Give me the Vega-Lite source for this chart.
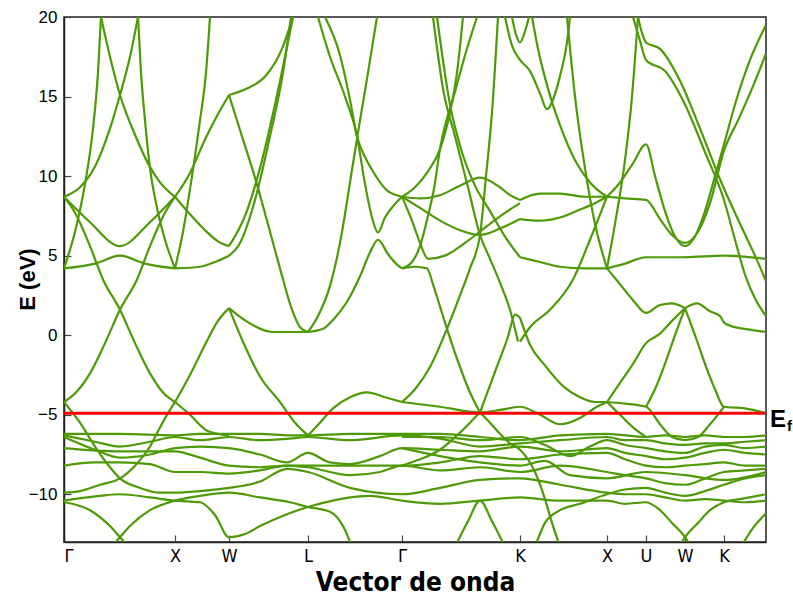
{
"$schema":"https://vega.github.io/schema/vega-lite/v6.json",
"width":702,"height":525,
"autosize":{"type":"none"},
"padding":{"left":64,"top":17,"right":27,"bottom":53},
"background":"white",
"config":{"view":{"stroke":"#222","strokeWidth":1.5},"axis":{"grid":false,"domainColor":"#222","domainWidth":1.5,"tickColor":"#444","tickWidth":1.2,"labelColor":"black","titleColor":"black"}},
"datasets":{"bands":[
{"s":"a1","x":64,"y":8.7},{"s":"a1","x":90,"y":7.1},{"s":"a1","x":120,"y":5.6},{"s":"a1","x":150,"y":7.1},{"s":"a1","x":175,"y":8.7},
{"s":"a2","x":64,"y":4.2},{"s":"a2","x":95,"y":4.5},{"s":"a2","x":120,"y":5.0},{"s":"a2","x":145,"y":4.5},{"s":"a2","x":175,"y":4.2},
{"s":"a3","x":64,"y":4.2},{"s":"a3","x":75,"y":6.5},{"s":"a3","x":85,"y":9.5},{"s":"a3","x":93,"y":13},{"s":"a3","x":98,"y":16.5},{"s":"a3","x":101,"y":20},
{"s":"a4","x":64,"y":8.7},{"s":"a4","x":80,"y":9.3},{"s":"a4","x":95,"y":10.6},{"s":"a4","x":110,"y":13},{"s":"a4","x":120,"y":15.1},{"s":"a4","x":130,"y":17.5},{"s":"a4","x":138,"y":20},
{"s":"a5","x":175,"y":8.7},{"s":"a5","x":160,"y":9.6},{"s":"a5","x":148,"y":10.8},{"s":"a5","x":135,"y":12.6},{"s":"a5","x":120,"y":15.1},{"s":"a5","x":110,"y":17.5},{"s":"a5","x":101,"y":20},
{"s":"a6","x":175,"y":4.2},{"s":"a6","x":165,"y":6.0},{"s":"a6","x":157,"y":8.0},{"s":"a6","x":150,"y":10.5},{"s":"a6","x":145,"y":13.5},{"s":"a6","x":141,"y":16.5},{"s":"a6","x":138,"y":20},
{"s":"a7","x":64,"y":8.7},{"s":"a7","x":75,"y":7.7},{"s":"a7","x":90,"y":5.6},{"s":"a7","x":103,"y":3.5},{"s":"a7","x":120,"y":1.6},{"s":"a7","x":135,"y":-0.5},{"s":"a7","x":150,"y":-2.4},{"s":"a7","x":163,"y":-3.6},{"s":"a7","x":175,"y":-4.2},
{"s":"a8","x":64,"y":-4.2},{"s":"a8","x":76,"y":-3.6},{"s":"a8","x":90,"y":-2.4},{"s":"a8","x":105,"y":-0.5},{"s":"a8","x":120,"y":1.6},{"s":"a8","x":137,"y":3.5},{"s":"a8","x":150,"y":5.6},{"s":"a8","x":165,"y":7.7},{"s":"a8","x":175,"y":8.7},
{"s":"b1","x":175,"y":8.7},{"s":"b1","x":190,"y":10.2},{"s":"b1","x":205,"y":12.3},{"s":"b1","x":218,"y":13.9},{"s":"b1","x":229,"y":15.1},
{"s":"b2","x":175,"y":4.2},{"s":"b2","x":183,"y":6.5},{"s":"b2","x":192,"y":10},{"s":"b2","x":200,"y":13.5},{"s":"b2","x":206,"y":16.5},{"s":"b2","x":210,"y":20},
{"s":"b3","x":175,"y":8.7},{"s":"b3","x":190,"y":7.6},{"s":"b3","x":205,"y":6.6},{"s":"b3","x":218,"y":5.9},{"s":"b3","x":229,"y":5.6},
{"s":"b4","x":175,"y":4.2},{"s":"b4","x":200,"y":4.3},{"s":"b4","x":215,"y":4.6},{"s":"b4","x":229,"y":5.0},
{"s":"b5","x":175,"y":-4.2},{"s":"b5","x":190,"y":-2.5},{"s":"b5","x":205,"y":-0.6},{"s":"b5","x":218,"y":0.9},{"s":"b5","x":229,"y":1.7},
{"s":"b6","x":175,"y":-4.2},{"s":"b6","x":190,"y":-5.0},{"s":"b6","x":207,"y":-6.0},{"s":"b6","x":229,"y":-6.3},
{"s":"c1","x":229,"y":15.1},{"s":"c1","x":247,"y":15.5},{"s":"c1","x":267,"y":16.4},{"s":"c1","x":282,"y":18},{"s":"c1","x":293,"y":20},
{"s":"c2","x":229,"y":15.1},{"s":"c2","x":242,"y":12.5},{"s":"c2","x":255,"y":9.9},{"s":"c2","x":267,"y":7.2},{"s":"c2","x":280,"y":4.2},{"s":"c2","x":292,"y":1.6},{"s":"c2","x":300,"y":0.5},{"s":"c2","x":308,"y":0.2},
{"s":"c3","x":229,"y":5.6},{"s":"c3","x":245,"y":7.5},{"s":"c3","x":260,"y":10.5},{"s":"c3","x":275,"y":14.5},{"s":"c3","x":293,"y":20},
{"s":"c4","x":229,"y":5.0},{"s":"c4","x":240,"y":5.8},{"s":"c4","x":255,"y":8.5},{"s":"c4","x":270,"y":12.5},{"s":"c4","x":283,"y":16.5},{"s":"c4","x":291,"y":20},
{"s":"c5","x":229,"y":1.7},{"s":"c5","x":247,"y":0.85},{"s":"c5","x":273,"y":0.2},{"s":"c5","x":308,"y":0.2},
{"s":"c6","x":229,"y":1.7},{"s":"c6","x":245,"y":-0.7},{"s":"c6","x":260,"y":-2.6},{"s":"c6","x":280,"y":-4.2},{"s":"c6","x":295,"y":-5.5},{"s":"c6","x":308,"y":-6.3},
{"s":"e1","x":308,"y":0.2},{"s":"e1","x":323,"y":0.4},{"s":"e1","x":335,"y":1.1},{"s":"e1","x":347,"y":2.1},{"s":"e1","x":360,"y":3.7},{"s":"e1","x":370,"y":5.2},{"s":"e1","x":378,"y":6.0},{"s":"e1","x":388,"y":5.1},{"s":"e1","x":396,"y":4.5},{"s":"e1","x":402,"y":4.2},
{"s":"e2","x":308,"y":0.2},{"s":"e2","x":318,"y":1.2},{"s":"e2","x":330,"y":3.1},{"s":"e2","x":340,"y":5.8},{"s":"e2","x":352,"y":10.4},{"s":"e2","x":360,"y":13.5},{"s":"e2","x":368,"y":16.5},{"s":"e2","x":377,"y":20},
{"s":"e3","x":318,"y":20},{"s":"e3","x":330,"y":17.5},{"s":"e3","x":345,"y":15},{"s":"e3","x":357,"y":12.5},{"s":"e3","x":365,"y":9.5},{"s":"e3","x":372,"y":7.4},{"s":"e3","x":378,"y":6.45},{"s":"e3","x":385,"y":7.4},{"s":"e3","x":393,"y":8.1},{"s":"e3","x":402,"y":8.7},
{"s":"e4","x":325,"y":20},{"s":"e4","x":340,"y":17.6},{"s":"e4","x":350,"y":14.8},{"s":"e4","x":357,"y":12.5},{"s":"e4","x":365,"y":11.2},{"s":"e4","x":372,"y":10.4},{"s":"e4","x":387,"y":9.1},{"s":"e4","x":402,"y":8.7},
{"s":"e5","x":308,"y":-6.3},{"s":"e5","x":320,"y":-5.5},{"s":"e5","x":333,"y":-4.6},{"s":"e5","x":350,"y":-3.9},{"s":"e5","x":367,"y":-3.6},{"s":"e5","x":385,"y":-3.9},{"s":"e5","x":402,"y":-4.2},
{"s":"g1","x":402,"y":8.7},{"s":"g1","x":415,"y":9.3},{"s":"g1","x":428,"y":10.3},{"s":"g1","x":440,"y":11.7},{"s":"g1","x":450,"y":14},{"s":"g1","x":457,"y":16.5},{"s":"g1","x":463,"y":20},
{"s":"g2","x":402,"y":4.2},{"s":"g2","x":412,"y":4.6},{"s":"g2","x":420,"y":5.6},{"s":"g2","x":428,"y":7.5},{"s":"g2","x":434,"y":9.2},{"s":"g2","x":440,"y":11.7},{"s":"g2","x":455,"y":15.3},{"s":"g2","x":466,"y":17.8},{"s":"g2","x":477,"y":20},
{"s":"g3","x":402,"y":8.7},{"s":"g3","x":420,"y":8.6},{"s":"g3","x":440,"y":8.8},{"s":"g3","x":460,"y":9.4},{"s":"g3","x":480,"y":9.9},{"s":"g3","x":500,"y":9.3},{"s":"g3","x":510,"y":8.8},{"s":"g3","x":520,"y":8.5},
{"s":"g4","x":402,"y":8.7},{"s":"g4","x":420,"y":8.0},{"s":"g4","x":440,"y":7.2},{"s":"g4","x":460,"y":6.6},{"s":"g4","x":480,"y":6.3},{"s":"g4","x":500,"y":6.7},{"s":"g4","x":520,"y":7.3},
{"s":"g5","x":433,"y":20},{"s":"g5","x":443,"y":15.5},{"s":"g5","x":455,"y":12.5},{"s":"g5","x":468,"y":9.3},{"s":"g5","x":480,"y":6.3},{"s":"g5","x":490,"y":4.8},{"s":"g5","x":500,"y":3.3},{"s":"g5","x":510,"y":1.6},{"s":"g5","x":518,"y":-0.4},
{"s":"g6","x":480,"y":-4.85},{"s":"g6","x":495,"y":-2.3},{"s":"g6","x":508,"y":-0.1},{"s":"g6","x":515,"y":1.3},{"s":"g6","x":520,"y":1.1},
{"s":"g7","x":498,"y":20},{"s":"g7","x":492,"y":14},{"s":"g7","x":486,"y":10},{"s":"g7","x":480,"y":6.3},{"s":"g7","x":470,"y":4.2},{"s":"g7","x":460,"y":2.5},{"s":"g7","x":447,"y":0.4},{"s":"g7","x":430,"y":-2.0},{"s":"g7","x":415,"y":-3.4},{"s":"g7","x":402,"y":-4.2},
{"s":"g8","x":402,"y":4.2},{"s":"g8","x":415,"y":4.3},{"s":"g8","x":427,"y":4.2},{"s":"g8","x":433,"y":3.2},{"s":"g8","x":440,"y":1.8},{"s":"g8","x":447,"y":0.4},{"s":"g8","x":460,"y":-2.0},{"s":"g8","x":470,"y":-3.6},{"s":"g8","x":480,"y":-4.85},
{"s":"g9","x":437,"y":20},{"s":"g9","x":450,"y":14.5},{"s":"g9","x":462,"y":11.5},{"s":"g9","x":475,"y":9.4},{"s":"g9","x":490,"y":7.8},{"s":"g9","x":505,"y":6.2},{"s":"g9","x":520,"y":4.9},
{"s":"g10","x":402,"y":8.7},{"s":"g10","x":412,"y":7.2},{"s":"g10","x":420,"y":5.8},{"s":"g10","x":428,"y":4.8},{"s":"g10","x":445,"y":5.0},{"s":"g10","x":465,"y":5.8},{"s":"g10","x":490,"y":7.0},{"s":"g10","x":510,"y":7.9},{"s":"g10","x":520,"y":8.3},
{"s":"k1","x":520,"y":8.5},{"s":"k1","x":540,"y":8.9},{"s":"k1","x":560,"y":8.9},{"s":"k1","x":585,"y":8.7},{"s":"k1","x":607,"y":8.7},
{"s":"k2","x":520,"y":7.3},{"s":"k2","x":540,"y":7.2},{"s":"k2","x":560,"y":7.4},{"s":"k2","x":580,"y":7.9},{"s":"k2","x":595,"y":8.3},{"s":"k2","x":607,"y":8.7},
{"s":"k3","x":607,"y":8.7},{"s":"k3","x":590,"y":9.6},{"s":"k3","x":575,"y":11},{"s":"k3","x":560,"y":13.2},{"s":"k3","x":548,"y":15.5},{"s":"k3","x":538,"y":18},{"s":"k3","x":532,"y":20},
{"s":"k4","x":520,"y":4.9},{"s":"k4","x":540,"y":4.6},{"s":"k4","x":560,"y":4.3},{"s":"k4","x":585,"y":4.2},{"s":"k4","x":607,"y":4.2},
{"s":"k5","x":520,"y":1.1},{"s":"k5","x":530,"y":-0.6},{"s":"k5","x":545,"y":-1.9},{"s":"k5","x":563,"y":-3.2},{"s":"k5","x":580,"y":-3.9},{"s":"k5","x":595,"y":-4.2},{"s":"k5","x":607,"y":-4.2},
{"s":"k6","x":520,"y":-0.4},{"s":"k6","x":530,"y":0.5},{"s":"k6","x":550,"y":1.6},{"s":"k6","x":573,"y":3.5},{"s":"k6","x":590,"y":6},{"s":"k6","x":607,"y":8.7},
{"s":"k7","x":505,"y":20},{"s":"k7","x":512,"y":18.2},{"s":"k7","x":520,"y":17.3},{"s":"k7","x":530,"y":16.6},{"s":"k7","x":540,"y":15.2},{"s":"k7","x":547,"y":14.2},{"s":"k7","x":553,"y":14.8},{"s":"k7","x":560,"y":16.3},{"s":"k7","x":567,"y":18.4},{"s":"k7","x":570,"y":20},
{"s":"k8","x":512,"y":20},{"s":"k8","x":516,"y":18.9},{"s":"k8","x":520,"y":18.4},{"s":"k8","x":525,"y":19.1},{"s":"k8","x":529,"y":20},
{"s":"k10","x":567,"y":20},{"s":"k10","x":575,"y":15},{"s":"k10","x":585,"y":10.5},{"s":"k10","x":595,"y":7},{"s":"k10","x":607,"y":4.2},
{"s":"u2","x":607,"y":-4.2},{"s":"u2","x":620,"y":-3.0},{"s":"u2","x":633,"y":-1.8},{"s":"u2","x":646,"y":-0.5},{"s":"u2","x":660,"y":0.1},{"s":"u2","x":672,"y":0.9},{"s":"u2","x":685,"y":1.7},
{"s":"u3","x":607,"y":4.2},{"s":"u3","x":620,"y":3.2},{"s":"u3","x":633,"y":2.2},{"s":"u3","x":646,"y":1.4},{"s":"u3","x":660,"y":1.9},{"s":"u3","x":672,"y":2.0},{"s":"u3","x":685,"y":1.7},
{"s":"u4","x":607,"y":8.7},{"s":"u4","x":620,"y":9.6},{"s":"u4","x":633,"y":10.8},{"s":"u4","x":646,"y":12.0},{"s":"u4","x":655,"y":10},{"s":"u4","x":665,"y":7.8},{"s":"u4","x":675,"y":6.2},{"s":"u4","x":685,"y":5.6},{"s":"u4","x":695,"y":6.2},{"s":"u4","x":705,"y":7.8},{"s":"u4","x":715,"y":10},{"s":"u4","x":724,"y":12.0},{"s":"u4","x":735,"y":14.5},{"s":"u4","x":750,"y":17.3},{"s":"u4","x":766,"y":19.5},
{"s":"u5","x":607,"y":8.7},{"s":"u5","x":625,"y":8.6},{"s":"u5","x":646,"y":8.5},{"s":"u5","x":660,"y":7.3},{"s":"u5","x":672,"y":6.3},{"s":"u5","x":685,"y":5.8},{"s":"u5","x":698,"y":6.5},{"s":"u5","x":710,"y":8.3},{"s":"u5","x":724,"y":11.6},{"s":"u5","x":738,"y":13.5},{"s":"u5","x":752,"y":15.5},{"s":"u5","x":766,"y":17.7},
{"s":"u6","x":607,"y":4.2},{"s":"u6","x":625,"y":4.5},{"s":"u6","x":646,"y":4.9},{"s":"u6","x":685,"y":4.9},{"s":"u6","x":724,"y":5.0},{"s":"u6","x":766,"y":4.8},
{"s":"u7","x":607,"y":4.2},{"s":"u7","x":615,"y":7},{"s":"u7","x":625,"y":11},{"s":"u7","x":632,"y":15},{"s":"u7","x":638,"y":20},
{"s":"u8","x":638,"y":20},{"s":"u8","x":642,"y":19},{"s":"u8","x":646,"y":18.4},{"s":"u8","x":660,"y":18.0},{"s":"u8","x":680,"y":16},{"s":"u8","x":700,"y":13},{"s":"u8","x":720,"y":9.8},{"s":"u8","x":740,"y":7},{"s":"u8","x":755,"y":5},{"s":"u8","x":766,"y":3.4},
{"s":"u9","x":633,"y":20},{"s":"u9","x":640,"y":18.5},{"s":"u9","x":646,"y":17.3},{"s":"u9","x":665,"y":16.6},{"s":"u9","x":685,"y":14.5},{"s":"u9","x":705,"y":11.5},{"s":"u9","x":724,"y":8.5},{"s":"u9","x":735,"y":6},{"s":"u9","x":745,"y":3.8},{"s":"u9","x":755,"y":2.3},{"s":"u9","x":766,"y":1.2},
{"s":"w1","x":685,"y":1.7},{"s":"w1","x":695,"y":0},{"s":"w1","x":705,"y":-1.8},{"s":"w1","x":715,"y":-3.4},{"s":"w1","x":724,"y":-4.5},{"s":"w1","x":745,"y":-4.6},{"s":"w1","x":766,"y":-4.9},
{"s":"w2","x":685,"y":1.7},{"s":"w2","x":697,"y":2.0},{"s":"w2","x":710,"y":1.5},{"s":"w2","x":720,"y":1.2},{"s":"w2","x":724,"y":0.8},{"s":"w2","x":730,"y":0.6},{"s":"w2","x":750,"y":0.35},{"s":"w2","x":766,"y":0.2},
{"s":"w3","x":646,"y":-4.5},{"s":"w3","x":655,"y":-3.4},{"s":"w3","x":665,"y":-1.8},{"s":"w3","x":675,"y":0},{"s":"w3","x":685,"y":1.7},
{"s":"w4","x":607,"y":-4.2},{"s":"w4","x":625,"y":-4.3},{"s":"w4","x":646,"y":-4.5},{"s":"w4","x":660,"y":-5.6},{"s":"w4","x":672,"y":-6.4},{"s":"w4","x":685,"y":-6.6},{"s":"w4","x":698,"y":-6.4},{"s":"w4","x":710,"y":-5.6},{"s":"w4","x":724,"y":-4.5},
{"s":"w5","x":607,"y":-4.2},{"s":"w5","x":620,"y":-5.0},{"s":"w5","x":633,"y":-5.8},{"s":"w5","x":646,"y":-6.4},
{"s":"f1","x":402,"y":-4.2},{"s":"f1","x":440,"y":-4.5},{"s":"f1","x":480,"y":-4.85},{"s":"f1","x":500,"y":-4.7},{"s":"f1","x":520,"y":-4.5},{"s":"f1","x":540,"y":-5.0},{"s":"f1","x":560,"y":-5.6},{"s":"f1","x":580,"y":-5.2},{"s":"f1","x":597,"y":-4.5},{"s":"f1","x":607,"y":-4.2},
{"s":"d0a","x":64,"y":-6.2},{"s":"d0a","x":120,"y":-6.2},{"s":"d0a","x":175,"y":-6.3},{"s":"d0a","x":200,"y":-6.2},{"s":"d0a","x":229,"y":-6.2},{"s":"d0a","x":260,"y":-6.2},{"s":"d0a","x":290,"y":-6.3},{"s":"d0a","x":308,"y":-6.3},{"s":"d0a","x":350,"y":-6.2},{"s":"d0a","x":402,"y":-6.2},{"s":"d0a","x":440,"y":-6.2},{"s":"d0a","x":480,"y":-6.4},{"s":"d0a","x":520,"y":-6.6},{"s":"d0a","x":560,"y":-6.3},{"s":"d0a","x":607,"y":-6.2},{"s":"d0a","x":646,"y":-6.4},{"s":"d0a","x":665,"y":-6.3},{"s":"d0a","x":685,"y":-6.4},{"s":"d0a","x":705,"y":-6.3},{"s":"d0a","x":724,"y":-6.4},{"s":"d0a","x":745,"y":-6.4},{"s":"d0a","x":766,"y":-6.3},
{"s":"d0b","x":64,"y":-6.3},{"s":"d0b","x":95,"y":-6.7},{"s":"d0b","x":120,"y":-7.0},{"s":"d0b","x":150,"y":-6.7},{"s":"d0b","x":175,"y":-6.4},{"s":"d0b","x":200,"y":-6.6},{"s":"d0b","x":229,"y":-6.4},{"s":"d0b","x":260,"y":-6.6},{"s":"d0b","x":290,"y":-6.5},{"s":"d0b","x":308,"y":-6.4},{"s":"d0b","x":350,"y":-6.6},{"s":"d0b","x":402,"y":-6.3},{"s":"d0b","x":440,"y":-6.5},{"s":"d0b","x":480,"y":-7.0},{"s":"d0b","x":520,"y":-6.8},{"s":"d0b","x":560,"y":-6.6},{"s":"d0b","x":607,"y":-6.4},{"s":"d0b","x":625,"y":-6.6},{"s":"d0b","x":646,"y":-6.6},{"s":"d0b","x":665,"y":-6.8},{"s":"d0b","x":685,"y":-6.9},{"s":"d0b","x":705,"y":-6.8},{"s":"d0b","x":724,"y":-6.8},{"s":"d0b","x":745,"y":-6.7},{"s":"d0b","x":766,"y":-6.6},
{"s":"d0c","x":64,"y":-6.4},{"s":"d0c","x":95,"y":-7.2},{"s":"d0c","x":120,"y":-7.7},{"s":"d0c","x":150,"y":-7.5},{"s":"d0c","x":175,"y":-7.1},{"s":"d0c","x":200,"y":-7.0},{"s":"d0c","x":229,"y":-7.1},{"s":"d0c","x":260,"y":-7.5},{"s":"d0c","x":287,"y":-8.0},{"s":"d0c","x":308,"y":-7.4},{"s":"d0c","x":330,"y":-8.0},{"s":"d0c","x":350,"y":-8.1},{"s":"d0c","x":380,"y":-7.6},{"s":"d0c","x":402,"y":-7.1},{"s":"d0c","x":440,"y":-7.2},{"s":"d0c","x":480,"y":-7.3},{"s":"d0c","x":520,"y":-7.0},{"s":"d0c","x":560,"y":-7.3},{"s":"d0c","x":607,"y":-7.1},{"s":"d0c","x":625,"y":-7.4},{"s":"d0c","x":646,"y":-7.6},{"s":"d0c","x":665,"y":-7.8},{"s":"d0c","x":685,"y":-7.7},{"s":"d0c","x":705,"y":-7.4},{"s":"d0c","x":724,"y":-7.2},{"s":"d0c","x":745,"y":-7.4},{"s":"d0c","x":766,"y":-7.5},
{"s":"d0d","x":64,"y":-7.1},{"s":"d0d","x":120,"y":-7.3},{"s":"d0d","x":175,"y":-7.3},{"s":"d0d","x":200,"y":-7.7},{"s":"d0d","x":229,"y":-8.2},{"s":"d0d","x":260,"y":-8.3},{"s":"d0d","x":287,"y":-8.2},{"s":"d0d","x":308,"y":-8.2},{"s":"d0d","x":350,"y":-8.2},{"s":"d0d","x":402,"y":-8.2},{"s":"d0d","x":440,"y":-8.0},{"s":"d0d","x":480,"y":-7.6},{"s":"d0d","x":520,"y":-7.8},{"s":"d0d","x":560,"y":-7.5},{"s":"d0d","x":607,"y":-7.4},{"s":"d0d","x":625,"y":-7.8},{"s":"d0d","x":646,"y":-8.2},{"s":"d0d","x":665,"y":-8.3},{"s":"d0d","x":685,"y":-8.2},{"s":"d0d","x":705,"y":-8.1},{"s":"d0d","x":724,"y":-8.0},{"s":"d0d","x":745,"y":-8.2},{"s":"d0d","x":766,"y":-8.2},
{"s":"d0e","x":64,"y":-8.2},{"s":"d0e","x":95,"y":-8.0},{"s":"d0e","x":120,"y":-8.0},{"s":"d0e","x":150,"y":-8.1},{"s":"d0e","x":175,"y":-8.6},{"s":"d0e","x":200,"y":-8.6},{"s":"d0e","x":229,"y":-8.7},{"s":"d0e","x":260,"y":-8.5},{"s":"d0e","x":287,"y":-8.2},{"s":"d0e","x":308,"y":-8.3},{"s":"d0e","x":350,"y":-8.8},{"s":"d0e","x":380,"y":-8.6},{"s":"d0e","x":402,"y":-8.2},{"s":"d0e","x":440,"y":-8.5},{"s":"d0e","x":480,"y":-8.3},{"s":"d0e","x":520,"y":-8.6},{"s":"d0e","x":560,"y":-8.2},{"s":"d0e","x":607,"y":-8.6},{"s":"d0e","x":625,"y":-8.8},{"s":"d0e","x":646,"y":-9.0},{"s":"d0e","x":665,"y":-9.3},{"s":"d0e","x":685,"y":-9.4},{"s":"d0e","x":705,"y":-9.0},{"s":"d0e","x":724,"y":-8.6},{"s":"d0e","x":745,"y":-8.5},{"s":"d0e","x":766,"y":-8.4},
{"s":"d0f","x":64,"y":-4.2},{"s":"d0f","x":80,"y":-5.5},{"s":"d0f","x":95,"y":-7.0},{"s":"d0f","x":110,"y":-8.3},{"s":"d0f","x":120,"y":-9.0},{"s":"d0f","x":140,"y":-9.6},{"s":"d0f","x":160,"y":-9.9},{"s":"d0f","x":175,"y":-9.9},{"s":"d0f","x":200,"y":-9.8},{"s":"d0f","x":229,"y":-9.6},{"s":"d0f","x":260,"y":-9.2},{"s":"d0f","x":287,"y":-8.4},{"s":"d0f","x":308,"y":-8.6},{"s":"d0f","x":350,"y":-9.6},{"s":"d0f","x":402,"y":-10.0},{"s":"d0f","x":440,"y":-9.6},{"s":"d0f","x":480,"y":-9.1},{"s":"d0f","x":520,"y":-9.0},{"s":"d0f","x":560,"y":-9.4},{"s":"d0f","x":607,"y":-9.9},{"s":"d0f","x":625,"y":-10.0},{"s":"d0f","x":646,"y":-10.0},{"s":"d0f","x":665,"y":-10.2},{"s":"d0f","x":685,"y":-10.4},{"s":"d0f","x":705,"y":-10.3},{"s":"d0f","x":724,"y":-10.4},{"s":"d0f","x":745,"y":-10.5},{"s":"d0f","x":766,"y":-10.4},
{"s":"d0g","x":64,"y":-9.9},{"s":"d0g","x":80,"y":-9.8},{"s":"d0g","x":100,"y":-9.4},{"s":"d0g","x":120,"y":-9.0},{"s":"d0g","x":135,"y":-8.2},{"s":"d0g","x":150,"y":-7.0},{"s":"d0g","x":160,"y":-5.8},{"s":"d0g","x":168,"y":-4.9},{"s":"d0g","x":175,"y":-4.2},
{"s":"d0h","x":64,"y":-10.4},{"s":"d0h","x":100,"y":-10.1},{"s":"d0h","x":120,"y":-10.0},{"s":"d0h","x":150,"y":-10.2},{"s":"d0h","x":175,"y":-10.4},{"s":"d0h","x":200,"y":-10.5},{"s":"d0h","x":215,"y":-11.3},{"s":"d0h","x":229,"y":-12.7},{"s":"d0h","x":245,"y":-12.5},{"s":"d0h","x":260,"y":-12.0},{"s":"d0h","x":285,"y":-11.3},{"s":"d0h","x":308,"y":-10.8},{"s":"d0h","x":340,"y":-10.3},{"s":"d0h","x":370,"y":-10.1},{"s":"d0h","x":402,"y":-10.4},{"s":"d0h","x":440,"y":-10.6},{"s":"d0h","x":480,"y":-10.4},{"s":"d0h","x":520,"y":-10.2},{"s":"d0h","x":560,"y":-10.4},{"s":"d0h","x":607,"y":-10.4},{"s":"d0h","x":625,"y":-10.6},{"s":"d0h","x":646,"y":-10.5},{"s":"d0h","x":660,"y":-11.0},{"s":"d0h","x":672,"y":-11.8},{"s":"d0h","x":685,"y":-12.7},{"s":"d0h","x":692,"y":-13.4},
{"s":"d0i","x":64,"y":-10.5},{"s":"d0i","x":90,"y":-11.0},{"s":"d0i","x":110,"y":-12.0},{"s":"d0i","x":120,"y":-12.7},{"s":"d0i","x":130,"y":-13.4},
{"s":"d0j","x":110,"y":-13.4},{"s":"d0j","x":120,"y":-12.7},{"s":"d0j","x":130,"y":-12.0},{"s":"d0j","x":150,"y":-11.0},{"s":"d0j","x":175,"y":-10.4},{"s":"d0j","x":200,"y":-10.1},{"s":"d0j","x":229,"y":-9.9},{"s":"d0j","x":260,"y":-10.2},{"s":"d0j","x":290,"y":-10.5},{"s":"d0j","x":308,"y":-10.8},{"s":"d0j","x":330,"y":-11.1},{"s":"d0j","x":343,"y":-12},{"s":"d0j","x":352,"y":-13.3},
{"s":"d4h","x":455,"y":-13.3},{"s":"d4h","x":468,"y":-11.7},{"s":"d4h","x":480,"y":-10.4},{"s":"d4h","x":492,"y":-11.7},{"s":"d4h","x":505,"y":-13.3},
{"s":"d4i","x":480,"y":-4.85},{"s":"d4i","x":490,"y":-5.5},{"s":"d4i","x":500,"y":-6.2},{"s":"d4i","x":510,"y":-6.8},{"s":"d4i","x":520,"y":-7.2},{"s":"d4i","x":535,"y":-8.6},{"s":"d4i","x":545,"y":-10.3},{"s":"d4i","x":552,"y":-11.8},{"s":"d4i","x":560,"y":-13.3},
{"s":"d4j","x":402,"y":-8.2},{"s":"d4j","x":420,"y":-7.8},{"s":"d4j","x":440,"y":-7.2},{"s":"d4j","x":457,"y":-6.3},{"s":"d4j","x":470,"y":-5.5},{"s":"d4j","x":480,"y":-4.85},
{"s":"d5i","x":535,"y":-13.3},{"s":"d5i","x":545,"y":-11.8},{"s":"d5i","x":560,"y":-11.0},{"s":"d5i","x":580,"y":-10.6},{"s":"d5i","x":607,"y":-10.0},{"s":"d5i","x":625,"y":-9.7},{"s":"d5i","x":646,"y":-9.6},{"s":"d5i","x":665,"y":-9.9},{"s":"d5i","x":685,"y":-10.1},{"s":"d5i","x":705,"y":-9.8},{"s":"d5i","x":724,"y":-9.4},{"s":"d5i","x":745,"y":-9.0},{"s":"d5i","x":766,"y":-8.8},
{"s":"d7h","x":678,"y":-13.4},{"s":"d7h","x":685,"y":-12.7},{"s":"d7h","x":698,"y":-11.8},{"s":"d7h","x":710,"y":-11.0},{"s":"d7h","x":724,"y":-10.5},{"s":"d7h","x":740,"y":-10.3},{"s":"d7h","x":766,"y":-10.0},
{"s":"d9h","x":741,"y":-13.3},{"s":"d9h","x":752,"y":-12.2},{"s":"d9h","x":766,"y":-11.2},
{"s":"dx1","x":402,"y":-6.4},{"s":"dx1","x":440,"y":-6.4},{"s":"dx1","x":480,"y":-6.6},{"s":"dx1","x":520,"y":-6.4},{"s":"dx1","x":545,"y":-6.9},{"s":"dx1","x":570,"y":-7.6},{"s":"dx1","x":590,"y":-7.0},{"s":"dx1","x":607,"y":-6.6},{"s":"dx1","x":625,"y":-6.9},{"s":"dx1","x":646,"y":-7.1},{"s":"dx1","x":665,"y":-7.3},{"s":"dx1","x":685,"y":-7.4},{"s":"dx1","x":705,"y":-7.0},{"s":"dx1","x":724,"y":-6.9},{"s":"dx1","x":745,"y":-7.1},{"s":"dx1","x":766,"y":-7.0},
{"s":"dx2","x":402,"y":-7.1},{"s":"dx2","x":440,"y":-7.6},{"s":"dx2","x":480,"y":-8.0},{"s":"dx2","x":520,"y":-8.2},{"s":"dx2","x":545,"y":-7.9},{"s":"dx2","x":570,"y":-8.8},{"s":"dx2","x":607,"y":-9.0},{"s":"dx2","x":646,"y":-8.6},{"s":"dx2","x":685,"y":-8.8},{"s":"dx2","x":724,"y":-9.1},{"s":"dx2","x":766,"y":-8.6}
],
"ef":[{"x":766,"y":-4.9}]},
"layer":[
{"data":{"name":"bands"},"mark":{"type":"line","color":"#4e9a06","strokeWidth":2.2,"interpolate":"monotone","clip":true},
"encoding":{"x":{"field":"x","type":"quantitative","scale":{"domain":[64,766],"nice":false,"zero":false},
"axis":{"values":[64,175,229,308,402,520,607,646,685,724],"labelExpr":"datum.value==64||datum.value==402?'Γ':(datum.value==175||datum.value==607?'X':(datum.value==229||datum.value==685?'W':(datum.value==308?'L':(datum.value==646?'U':'K'))))","labelFontSize":18,"labelFont":"'DejaVu Sans Condensed', 'Liberation Sans', sans-serif","tickSize":-7,"labelPadding":12,"title":"Vector de onda","titleFontSize":26,"titleFont":"'DejaVu Sans Condensed', 'Liberation Sans', sans-serif","titleFontWeight":"bold","titlePadding":4}},
"y":{"field":"y","type":"quantitative","scale":{"domain":[-13,20],"nice":false,"zero":false},
"axis":{"values":[-10,-5,0,5,10,15,20],"labelFontSize":17,"labelFont":"Liberation Sans","tickSize":-7,"labelPadding":14,"title":"E (eV)","titleFontSize":22,"titleFont":"Liberation Sans","titleFontWeight":"bold","titleX":-37,"titleY":262,"titleAlign":"center","titleBaseline":"middle","titleAngle":270}},
"detail":{"field":"s"}}},
{"data":{"name":"ef"},"mark":{"type":"rule","color":"#ff0000","strokeWidth":3},"encoding":{"y":{"field":"y","type":"quantitative"}}},
{"data":{"name":"ef"},"mark":{"type":"text","text":"E","align":"left","baseline":"middle","dx":4,"dy":7,"fontSize":24,"fontWeight":"bold","font":"Liberation Sans"},"encoding":{"x":{"field":"x","type":"quantitative"},"y":{"field":"y","type":"quantitative"}}},
{"data":{"name":"ef"},"mark":{"type":"text","text":"f","align":"left","baseline":"middle","dx":21,"dy":13,"fontSize":15,"fontWeight":"bold","font":"Liberation Sans"},"encoding":{"x":{"field":"x","type":"quantitative"},"y":{"field":"y","type":"quantitative"}}}
]
}
